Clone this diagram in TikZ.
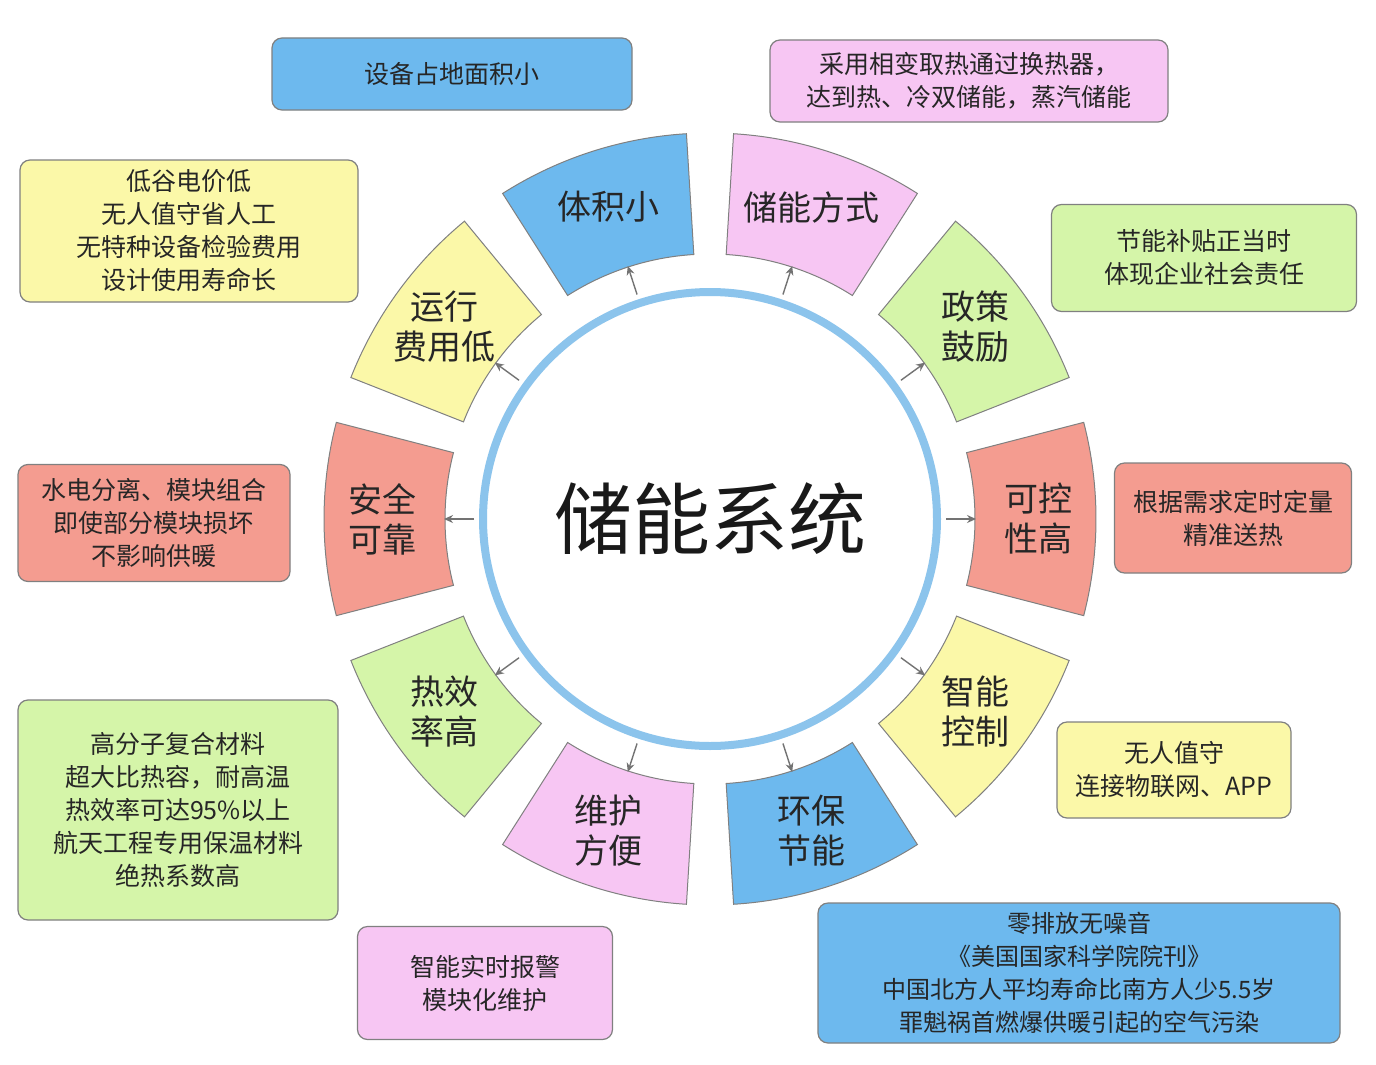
\documentclass[tikz,border=0pt]{standalone}
\usepackage{fontspec}
\setmainfont{Noto Sans CJK SC}
\usetikzlibrary{calc,arrows.meta}
\definecolor{cb}{HTML}{6DB9EE}
\definecolor{cp}{HTML}{F7C6F3}
\definecolor{cg}{HTML}{D5F5A9}
\definecolor{cs}{HTML}{F49C90}
\definecolor{cy}{HTML}{FBF8A8}
\definecolor{ring}{HTML}{8CC4EC}
\definecolor{bd}{HTML}{808080}
\tikzset{
  segtext/.style={font=\fontsize{34}{40}\selectfont, align=center, text=black!85},
  infobox/.style={draw=bd, line width=1.2pt, rounded corners=10pt, font=\fontsize{25}{33}\selectfont, align=center, text=black!85},
  arr/.style={draw=black!55, line width=1.4pt, -{Stealth[length=9pt,width=8pt]}}
}
\begin{document}
\begin{tikzpicture}[x=1pt,y=-1pt]
\useasboundingbox (0,0) rectangle (1376,1065);
\fill[white] (0,0) rectangle (1376,1065);
\coordinate (C) at (710,519);
\draw[ring, line width=8pt] (C) circle[radius=227];
\node[font=\fontsize{78}{80}\selectfont, text=black!90] (title) at (710,519) {储能系统};
\foreach \a/\col/\txt/\n in {108/cb/体积小/s1, 72/cp/储能方式/s2, 36/cg/政策\\鼓励/s3, 0/cs/可控\\性高/s4, -36/cy/智能\\控制/s5, -72/cb/环保\\节能/s6, -108/cp/维护\\方便/s7, -144/cg/热效\\率高/s8, 180/cs/安全\\可靠/s9, 144/cy/运行\\费用低/s10}{
  \pgfmathsetmacro{\t}{-\a}
  \pgfmathsetmacro{\ta}{\t-14.5}
  \pgfmathsetmacro{\tb}{\t+14.5}
  \filldraw[fill=\col, draw=bd, line width=1pt] ($(C)+(\ta:265)$) arc[start angle=\ta, end angle=\tb, radius=265] -- ($(C)+(\tb:386)$) arc[start angle=\tb, end angle=\ta, radius=386] -- cycle;
  \node[segtext] (\n) at ($(C)+(\t:328)$) {\txt};
  \coordinate (\n a) at ($(C)+(\t:236)$);
  \coordinate (\n b) at ($(C)+(\t:266)$);
  \draw[arr] (\n a) -- (\n b);
}
\node[infobox, fill=cb, minimum width=360pt, minimum height=72pt] (b1) at (452,74) {设备占地面积小};
\node[infobox, fill=cp, minimum width=398pt, minimum height=82pt] (b2) at (969,81) {采用相变取热通过换热器，\\达到热、冷双储能，蒸汽储能};
\node[infobox, fill=cg, minimum width=305pt, minimum height=107pt] (b3) at (1204,258) {节能补贴正当时\\体现企业社会责任};
\node[infobox, fill=cs, minimum width=237pt, minimum height=110pt] (b4) at (1233,518) {根据需求定时定量\\精准送热};
\node[infobox, fill=cy, minimum width=234pt, minimum height=96pt] (b5) at (1174,770) {无人值守\\连接物联网、APP};
\node[infobox, fill=cb, minimum width=522pt, minimum height=140pt, font=\fontsize{24}{33}\selectfont] (b6) at (1079,973) {零排放无噪音\\《美国国家科学院院刊》\\中国北方人平均寿命比南方人少5.5岁\\罪魁祸首燃爆供暖引起的空气污染};
\node[infobox, fill=cp, minimum width=255pt, minimum height=113pt] (b7) at (485,983) {智能实时报警\\模块化维护};
\node[infobox, fill=cg, minimum width=320pt, minimum height=220pt] (b8) at (178,810) {高分子复合材料\\超大比热容，耐高温\\热效率可达95\%以上\\航天工程专用保温材料\\绝热系数高};
\node[infobox, fill=cs, minimum width=272pt, minimum height=117pt] (b9) at (154,523) {水电分离、模块组合\\即使部分模块损坏\\不影响供暖};
\node[infobox, fill=cy, minimum width=338pt, minimum height=142pt] (b10) at (189,231) {低谷电价低\\无人值守省人工\\无特种设备检验费用\\设计使用寿命长};
\end{tikzpicture}
\end{document}
